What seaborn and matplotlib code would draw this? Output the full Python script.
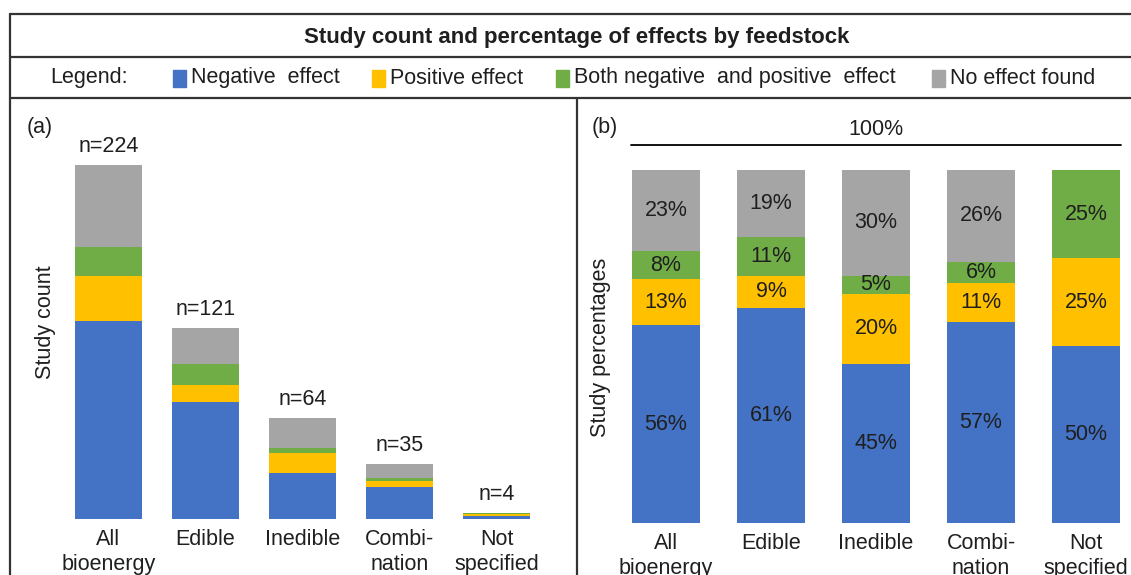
import numpy as np
import pandas as pd
import matplotlib
matplotlib.use("Agg")
import matplotlib.pyplot as plt
from matplotlib.lines import Line2D
from matplotlib.patches import Rectangle
import seaborn as sns

# ---- data ----
feedstocks = ["All\nbioenergy", "Edible", "Inedible", "Combi-\nnation", "Not\nspecified"]
effects = ["Negative effect", "Positive effect",
           "Both negative and positive effect", "No effect found"]
legend_labels = ["Negative  effect", "Positive effect",
                 "Both negative  and positive  effect", "No effect found"]

# study counts per feedstock
count_negative = [125, 74, 29, 20, 2]
count_positive = [29, 11, 13, 4, 1]
count_both = [18, 13, 3, 2, 1]
count_none = [52, 23, 19, 9, 0]
totals = [224, 121, 64, 35, 4]

# study percentages per feedstock
pct_negative = [56, 61, 45, 57, 50]
pct_positive = [13, 9, 20, 11, 25]
pct_both = [8, 11, 5, 6, 25]
pct_none = [23, 19, 30, 26, 0]

colors = ["#4472C4", "#FFC000", "#70AD47", "#A5A5A5"]

# ---- figure ----
W, H = 1131, 575
sns.set_theme(style="white")
plt.rcParams["font.family"] = ["Liberation Sans", "DejaVu Sans"]
fig = plt.figure(figsize=(W / 100, H / 100), dpi=100)
TXT = "#1f1f1f"
FS = 15.5


def fx(x):
    return x / W


def fy(y):
    return 1 - y / H


def add_axes_px(left, right, top, bottom):
    return fig.add_axes([fx(left), fy(bottom), (right - left) / W, (bottom - top) / H])


def stacked(ax, layers, width, ymax):
    cum = np.cumsum(np.array(layers), axis=0)
    for level in range(len(layers) - 1, -1, -1):
        df = pd.DataFrame({"feedstock": feedstocks, "value": cum[level]})
        sns.barplot(data=df, x="feedstock", y="value", order=feedstocks,
                    color=colors[level], saturation=1, width=width,
                    linewidth=0, ax=ax)
    ax.set_xlim(-0.5, len(feedstocks) - 0.5)
    ax.set_ylim(0, ymax)
    for s in ax.spines.values():
        s.set_visible(False)
    ax.set_yticks([])
    ax.set_xlabel("")
    ax.set_ylabel("")
    ax.tick_params(axis="x", length=0, pad=7, labelsize=FS, colors=TXT)
    for lab in ax.get_xticklabels():
        lab.set_linespacing(1.25)
    ax.patch.set_alpha(0)
    return cum


# (a) study counts
ax1 = add_axes_px(60, 545, 108, 519)
cum1 = stacked(ax1, [count_negative, count_positive, count_both, count_none], 0.69, 260)
for i, n in enumerate(totals):
    ax1.text(i, n + 5, f"n={n}", ha="center", va="bottom", fontsize=FS, color=TXT)
fig.text(fx(46), fy(322), "Study count", rotation=90, ha="center", va="center",
         fontsize=FS, color=TXT)

# (b) study percentages
ax2 = add_axes_px(613.5, 1138.5, 117, 523)
pct_layers = [pct_negative, pct_positive, pct_both, pct_none]
cum2 = stacked(ax2, pct_layers, 0.65, 115)
for level, vals in enumerate(pct_layers):
    for i, v in enumerate(vals):
        if v > 0:
            mid = cum2[level][i] - v / 2
            ax2.text(i, mid, f"{v}%", ha="center", va="center", fontsize=FS, color=TXT)
fig.text(fx(600), fy(347), "Study percentages", rotation=90, ha="center", va="center",
         fontsize=FS, color=TXT)
ax2.plot([-0.33, 4.33], [107, 107], color="black", lw=1.3, clip_on=False)
ax2.text(2, 108.5, "100%", ha="center", va="bottom", fontsize=FS, color=TXT)

# panel letters
fig.text(fx(27), fy(128), "(a)", fontsize=FS, color=TXT, va="center")
fig.text(fx(592), fy(128), "(b)", fontsize=FS, color=TXT, va="center")

# title row
fig.text(fx(577), fy(37), "Study count and percentage of effects by feedstock",
         fontsize=16, fontweight="bold", color=TXT, ha="center", va="center")

# legend row
fig.text(fx(50), fy(78), "Legend:", fontsize=FS, color=TXT, va="center")
sq_x = [173, 372, 556, 932]
for x, c, lab in zip(sq_x, colors, legend_labels):
    fig.add_artist(Rectangle((fx(x), fy(87)), 13 / W, 17 / H, color=c,
                             transform=fig.transFigure))
    fig.text(fx(x + 18), fy(78), lab, fontsize=FS, color=TXT, va="center")

# frame lines
frame = dict(color="#333333", lw=1.6, transform=fig.transFigure)
for y in (13.5, 57, 98):
    fig.add_artist(Line2D([fx(10), fx(W + 5)], [fy(y), fy(y)], **frame))
fig.add_artist(Line2D([fx(10), fx(10)], [fy(13.5), fy(H + 5)], **frame))
fig.add_artist(Line2D([fx(577), fx(577)], [fy(98), fy(H + 5)], **frame))

fig.savefig("out.png", dpi=100)
